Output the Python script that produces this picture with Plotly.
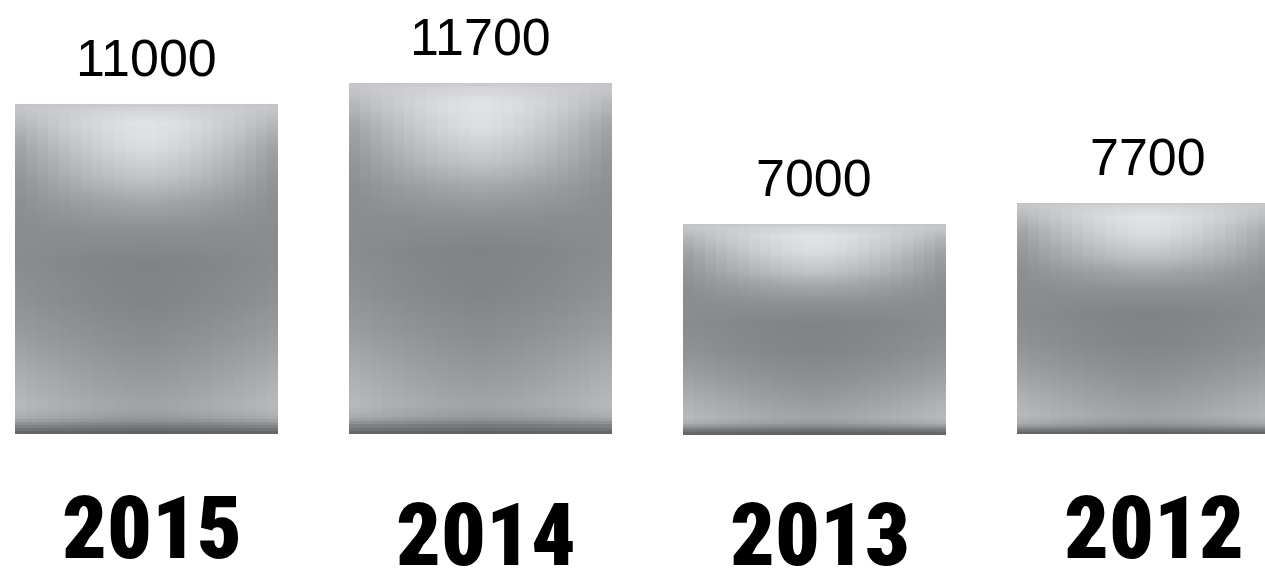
import numpy as np
import plotly.graph_objects as go

# ---- data ----
years = ["2015", "2014", "2013", "2012"]
values = [11000, 11700, 7000, 7700]
value_labels = ["11000", "11700", "7000", "7700"]

# ---- style ----
BAR_WIDTH = 0.787
X_RANGE = [-0.4386, 3.349]
Y_RANGE = [-4533, 14467]
YEAR_DROP = [0, 7, 7, 0]  # extra px drop of the year labels
YEAR_FONT = "Roboto Condensed, DejaVu Sans Condensed, sans-serif"

# metallic shading (grey levels), t = 0 at top of bar, 1 at bottom
T_STOPS = [0.0, 0.015, 0.06, 0.13, 0.22, 0.30, 0.38, 0.48, 0.60, 0.72, 0.84, 0.92, 0.955, 0.98, 1.0]
CENTER_G = [198, 212, 226, 220, 196, 164, 142, 129, 131, 140, 153, 163, 150, 115, 92]
EDGE_G = [194, 196, 180, 158, 146, 140, 139, 139, 145, 158, 176, 185, 170, 124, 96]
N_LEVELS = 110
N_RINGS = 12


def shade(u, t):
    c = np.interp(t, T_STOPS, CENTER_G)
    e = np.interp(t, T_STOPS, EDGE_G)
    w = u ** 1.5
    g = c * (1 - w) + e * w
    return f"rgb({g:.0f},{min(255, g + 1):.0f},{min(255, g + 4):.0f})"


fig = go.Figure()

# base bars (actual data)
fig.add_trace(go.Bar(
    x=years, y=values, width=BAR_WIDTH,
    marker=dict(color="rgb(140,141,145)", line=dict(width=0)),
    hovertemplate="%{x}: %{y}<extra></extra>",
))

# metallic shading overlay built from the same values
sx, sy, sw, sc = [], [], [], []
for i, yr in enumerate(years):
    for k in range(N_RINGS):
        wf = 1 - k / N_RINGS
        u = wf - 0.5 / N_RINGS
        for j in range(N_LEVELS):
            hf = 1 - j / N_LEVELS
            t = j / N_LEVELS + 0.5 / N_LEVELS
            sx.append(yr)
            sy.append(values[i] * hf)
            sw.append(BAR_WIDTH * wf)
            sc.append(shade(u, t))

fig.add_trace(go.Bar(
    x=sx, y=sy, width=sw,
    marker=dict(color=sc, line=dict(width=0)),
    hoverinfo="skip",
))

annotations = []
for i, yr in enumerate(years):
    annotations.append(dict(
        x=i, y=values[i], xref="x", yref="y",
        text=value_labels[i], showarrow=False,
        yanchor="middle", xanchor="center", yshift=46,
        font=dict(family="Liberation Sans, Arial, sans-serif", size=52, color="black"),
    ))
    annotations.append(dict(
        x=i, y=0, xref="x", yref="y",
        text=yr, showarrow=False,
        yanchor="middle", xanchor="center",
        xshift=6, yshift=-93.5 - YEAR_DROP[i],
        font=dict(family=YEAR_FONT, size=88, color="black", weight=900),
    ))

fig.update_layout(
    width=1265, height=570,
    margin=dict(l=0, r=0, t=0, b=0),
    paper_bgcolor="white", plot_bgcolor="white",
    barmode="overlay", bargap=0, bargroupgap=0, showlegend=False,
    xaxis=dict(type="category", range=X_RANGE, visible=False, fixedrange=True),
    yaxis=dict(range=Y_RANGE, visible=False, fixedrange=True),
    annotations=annotations,
)

fig.write_html(
    "out.html",
    config={"displayModeBar": False},
    post_script="document.body.style.margin='0';document.body.style.overflow='hidden';",
)
